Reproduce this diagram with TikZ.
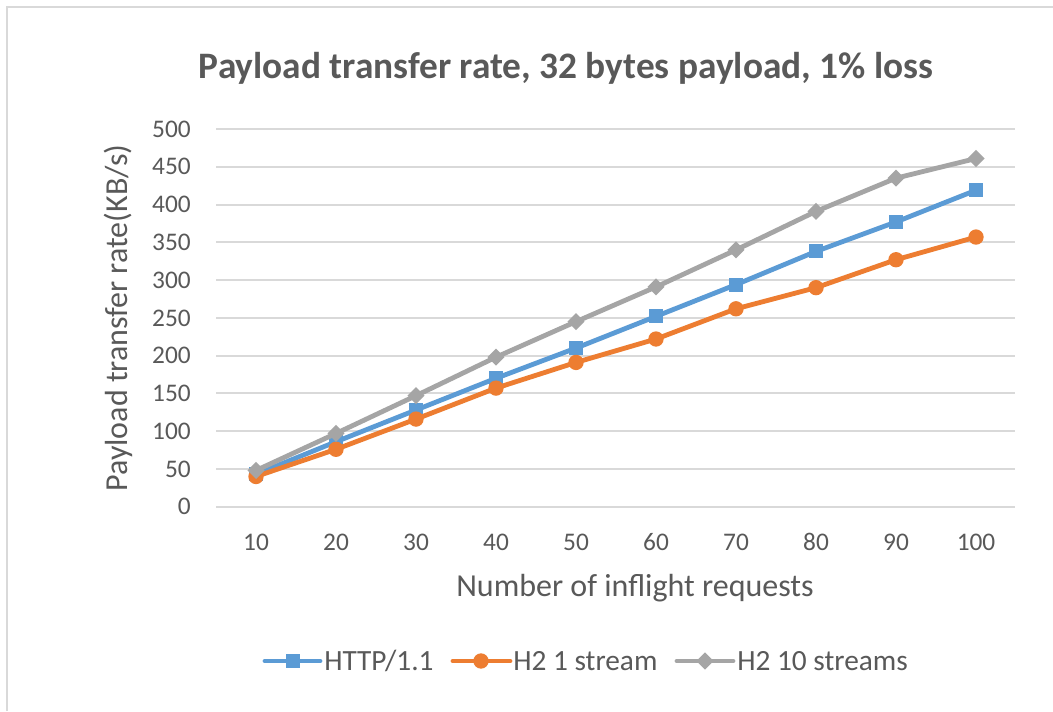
\documentclass[tikz,border=0pt]{standalone}
\usepackage{fontspec}
\setmainfont{Carlito}
\usetikzlibrary{shapes.geometric}

\definecolor{serblue}{HTML}{5B9BD5}
\definecolor{serorange}{HTML}{ED7D31}
\definecolor{sergray}{HTML}{A5A5A5}
\definecolor{gridgray}{HTML}{D9D9D9}
\definecolor{labgray}{HTML}{595959}

% value -> vertical position (1 unit = 1 px of the chart)
\newcommand\valy[1]{204.3+0.7553*#1}

\begin{document}
\begin{tikzpicture}[x=0.75pt, y=0.75pt,
    gridline/.style={draw=gridgray, line width=1.4pt},
    ticklab/.style={text=labgray, inner sep=0pt, font=\fontsize{19}{22}\selectfont},
    leglab/.style={text=labgray, inner sep=0pt, font=\fontsize{22}{26}\selectfont},
    axtitle/.style={text=labgray, inner sep=0pt, font=\fontsize{24}{28}\selectfont},
    series/.style={line width=3.6pt, line join=round, line cap=round},
    sqmark/.style={rectangle, fill=serblue, minimum size=10.5pt, inner sep=0pt},
    dotmark/.style={circle, fill=serorange, minimum size=11.5pt, inner sep=0pt},
    dmdmark/.style={diamond, fill=sergray, minimum size=13pt, inner sep=0pt}]
  \useasboundingbox (0,0) rectangle (1053,711);
  \fill[white] (0,0) rectangle (1053,711);
  \draw[gridgray, line width=1pt] (7,0) -- (7,704) -- (1053,704);

  % title
  \node[text=labgray, inner sep=0pt, font=\fontsize{28}{32}\selectfont\bfseries]
    (title) at (566,643) {Payload transfer rate, 32 bytes payload, 1\% loss};

  % grid and value axis
  \foreach \v in {0,50,...,500} {
    \draw[gridline] (216,{\valy{\v}}) -- (1015,{\valy{\v}});
    \node[ticklab, anchor=east] (ylab\v) at (191,{\valy{\v}}) {\v};
  }
  \node[axtitle, rotate=90] (ytitle) at (118,393) {Payload transfer rate(KB/s)};

  % category axis
  \foreach \c [count=\i] in {10,20,...,100}
    \node[ticklab] (xlab\c) at ({176+80*\i},169) {\c};
  \node[axtitle] (xtitle) at (635,123) {Number of inflight requests};

  % HTTP/1.1
  \foreach \v [count=\i] in {43,86,128,170,210,252,294,338,377,419}
    \coordinate (h\i) at ({176+80*\i},{\valy{\v}});
  \draw[series, serblue] (h1) \foreach \i in {2,...,10} {-- (h\i)};
  \foreach \i in {1,...,10}
    \node[sqmark] (hm\i) at (h\i) {};

  % H2 1 stream
  \foreach \v [count=\i] in {40,76,116,157,191,222,262,290,327,357}
    \coordinate (o\i) at ({176+80*\i},{\valy{\v}});
  \draw[series, serorange] (o1) \foreach \i in {2,...,10} {-- (o\i)};
  \foreach \i in {1,...,10}
    \node[dotmark] (om\i) at (o\i) {};

  % H2 10 streams
  \foreach \v [count=\i] in {48,97,147,198,245,291,340,391,435,461}
    \coordinate (g\i) at ({176+80*\i},{\valy{\v}});
  \draw[series, sergray] (g1) \foreach \i in {2,...,10} {-- (g\i)};
  \foreach \i in {1,...,10}
    \node[dmdmark] (gm\i) at (g\i) {};

  % legend
  \draw[series, serblue] (265,50) -- (320,50);
  \node[sqmark] (leghm) at (293,50) {};
  \node[leglab, anchor=west] (leghttp) at (324,50) {HTTP/1.1};
  \draw[series, serorange] (453,50) -- (510,50);
  \node[dotmark] (legom) at (481,50) {};
  \node[leglab, anchor=west] (legone) at (513,50) {H2 1 stream};
  \draw[series, sergray] (677,50) -- (733,50);
  \node[dmdmark] (leggm) at (705,50) {};
  \node[leglab, anchor=west] (legten) at (737,50) {H2 10 streams};
\end{tikzpicture}
\end{document}
